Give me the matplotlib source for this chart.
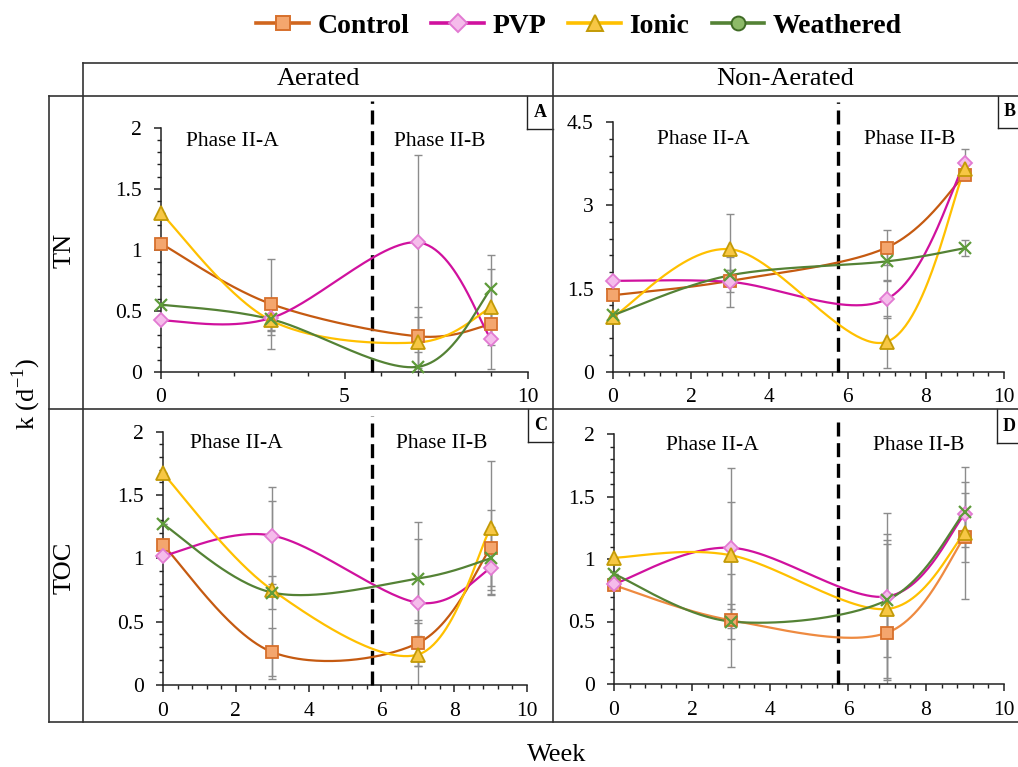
import numpy as np
import matplotlib
matplotlib.use("Agg")
import matplotlib.pyplot as plt
from matplotlib.lines import Line2D
from matplotlib.ticker import MultipleLocator
from matplotlib.font_manager import FontProperties

plt.rcParams['font.family'] = ['Liberation Serif', 'DejaVu Serif']
plt.rcParams['mathtext.fontset'] = 'custom'
plt.rcParams['mathtext.rm'] = 'Liberation Serif'

# ---------------- data ----------------
weeks = [0, 3, 7, 9]
series_names = ["Control", "PVP", "Ionic", "Weathered"]

# TN, aerated (panel A)
tn_aer_control = [1.05, 0.555, 0.29, 0.39]
tn_aer_pvp = [0.42, 0.44, 1.06, 0.265]
tn_aer_ionic = [1.30, 0.42, 0.24, 0.53]
tn_aer_weathered = [0.55, 0.43, 0.04, 0.68]
tn_aer_control_err = [0, 0.37, 0.24, 0.10]
tn_aer_pvp_err = [0, 0.10, 0.72, 0.245]
tn_aer_ionic_err = [0, 0.12, 0.21, 0.31]
tn_aer_weathered_err = [0, 0.10, 0.12, 0.28]

# TN, non-aerated (panel B)
tn_non_control = [1.38, 1.64, 2.24, 3.55]
tn_non_pvp = [1.64, 1.62, 1.31, 3.77]
tn_non_ionic = [0.99, 2.21, 0.54, 3.66]
tn_non_weathered = [1.02, 1.74, 1.99, 2.23]
tn_non_control_err = [0, 0.20, 0.31, 0.10]
tn_non_pvp_err = [0, 0.45, 0.35, 0.25]
tn_non_ionic_err = [0, 0.63, 0.47, 0.10]
tn_non_weathered_err = [0, 0.10, 0.35, 0.15]

# TOC, aerated (panel C)
toc_aer_control = [1.105, 0.26, 0.33, 1.08]
toc_aer_pvp = [1.02, 1.18, 0.65, 0.92]
toc_aer_ionic = [1.67, 0.75, 0.24, 1.24]
toc_aer_weathered = [1.27, 0.73, 0.84, 1.00]
toc_aer_control_err = [0, 0.19, 0.18, 0.30]
toc_aer_pvp_err = [0, 0.38, 0.50, 0.20]
toc_aer_ionic_err = [0, 0.70, 0.25, 0.53]
toc_aer_weathered_err = [0, 0.13, 0.45, 0.25]

# TOC, non-aerated (panel D)
toc_non_control = [0.79, 0.51, 0.41, 1.18]
toc_non_pvp = [0.80, 1.09, 0.70, 1.36]
toc_non_ionic = [1.01, 1.03, 0.60, 1.21]
toc_non_weathered = [0.88, 0.50, 0.67, 1.38]
toc_non_control_err = [0, 0.37, 0.79, 0.20]
toc_non_pvp_err = [0, 0.64, 0.67, 0.26]
toc_non_ionic_err = [0, 0.43, 0.55, 0.53]
toc_non_weathered_err = [0, 0.14, 0.45, 0.15]

phase_boundary = 5.75

# ---------------- styles ----------------
W, H = 1018, 767
styles = {
    "Control":   dict(line='#C55A11', marker='s', mfc='#F4A66E', mec='#D7702C', ms=9),
    "PVP":       dict(line='#D0119E', marker='D', mfc='#F5BCEB', mec='#E27AD2', ms=7.5),
    "Ionic":     dict(line='#FFC000', marker='^', mfc='#F7C744', mec='#C39A06', ms=9.5),
    "Weathered": dict(line='#548235', marker='x', mfc='#5E9B3A', mec='#5E9B3A', ms=8),
}


def fx(x):
    return x / W


def fy(y):
    return 1 - y / H


def excel_smooth(x, y, n=60):
    pts = np.column_stack([x, y]).astype(float)
    P = np.vstack([pts[0], pts, pts[-1]])
    out = []
    t = np.linspace(0, 1, n)[:, None]
    for i in range(len(pts) - 1):
        p0, p1, p2, p3 = P[i], P[i + 1], P[i + 2], P[i + 3]
        c1 = p1 + (p2 - p0) / 6
        c2 = p2 - (p3 - p1) / 6
        seg = (1 - t) ** 3 * p1 + 3 * (1 - t) ** 2 * t * c1 + 3 * (1 - t) * t ** 2 * c2 + t ** 3 * p2
        out.append(seg if i == 0 else seg[1:])
    return np.vstack(out)


fig = plt.figure(figsize=(W / 100, H / 100), dpi=100)

panels = [
    dict(rect=(161, 528, 127.7, 371.7), ylim=2, ymaj=0.5, ymin=0.1, xmaj=5, xmin=1,
         data=[tn_aer_control, tn_aer_pvp, tn_aer_ionic, tn_aer_weathered],
         err=[tn_aer_control_err, tn_aer_pvp_err, tn_aer_ionic_err, tn_aer_weathered_err],
         dash_top=101, ctrl='#C55A11',
         phaseA=(232, 142), phaseB=(440, 142), letter='A', box=(527, 96, 129, 553)),
    dict(rect=(613, 1004, 122.3, 371.7), ylim=4.5, ymaj=1.5, ymin=0.3, xmaj=2, xmin=0.4,
         data=[tn_non_control, tn_non_pvp, tn_non_ionic, tn_non_weathered],
         err=[tn_non_control_err, tn_non_pvp_err, tn_non_ionic_err, tn_non_weathered_err],
         dash_top=102, ctrl='#C55A11',
         phaseA=(703, 139), phaseB=(910, 139), letter='B', box=(998, 96, 128, 1018)),
    dict(rect=(163, 527, 431.7, 685), ylim=2, ymaj=0.5, ymin=0.1, xmaj=2, xmin=0.4,
         data=[toc_aer_control, toc_aer_pvp, toc_aer_ionic, toc_aer_weathered],
         err=[toc_aer_control_err, toc_aer_pvp_err, toc_aer_ionic_err, toc_aer_weathered_err],
         dash_top=416, ctrl='#C55A11',
         phaseA=(236, 444), phaseB=(442, 444), letter='C', box=(528, 409, 442, 553)),
    dict(rect=(614, 1004, 434, 684), ylim=2, ymaj=0.5, ymin=0.1, xmaj=2, xmin=0.4,
         data=[toc_non_control, toc_non_pvp, toc_non_ionic, toc_non_weathered],
         err=[toc_non_control_err, toc_non_pvp_err, toc_non_ionic_err, toc_non_weathered_err],
         dash_top=416, ctrl='#EE8A40',
         phaseA=(712, 446), phaseB=(919, 446), letter='D', box=(997, 409, 443, 1018)),
]

for p in panels:
    l, r, t, b = p['rect']
    ax = fig.add_axes([fx(l), fy(b), (r - l) / W, (b - t) / H])
    ax.set_xlim(0, 10)
    ax.set_ylim(0, p['ylim'])
    ax.patch.set_alpha(0)
    for s in ('top', 'right'):
        ax.spines[s].set_visible(False)
    for s in ('left', 'bottom'):
        ax.spines[s].set_color('#222222')
        ax.spines[s].set_linewidth(1.1)
    ax.xaxis.set_major_locator(MultipleLocator(p['xmaj']))
    ax.xaxis.set_minor_locator(MultipleLocator(p['xmin']))
    ax.yaxis.set_major_locator(MultipleLocator(p['ymaj']))
    ax.yaxis.set_minor_locator(MultipleLocator(p['ymin']))
    ax.tick_params(which='major', direction='out', length=5, width=1.1, labelsize=15.5,
                   color='#222222', pad=9)
    ax.tick_params(which='minor', direction='out', length=3, width=1.0, color='#222222')
    ax.tick_params(axis='x', which='major', pad=7)
    ax.yaxis.set_major_formatter(matplotlib.ticker.FuncFormatter(lambda v, _: f"{v:g}"))

    # error bars
    for name, vals, errs in zip(series_names, p['data'], p['err']):
        ax.errorbar(weeks, vals, yerr=errs, fmt='none', ecolor='#8C8C8C', elinewidth=1.0,
                    capsize=3, capthick=1.0, zorder=2)
    # dashed phase line
    frac = (b - p['dash_top']) / (b - t)
    ax.axvline(phase_boundary, ymin=0, ymax=frac, color='black', lw=2.4,
               ls=(0, (4.2, 2.0)), clip_on=False, zorder=3)
    # curves
    for name, vals in zip(series_names, p['data']):
        st = styles[name]
        col = p['ctrl'] if name == 'Control' else st['line']
        curve = excel_smooth(weeks, vals)
        ax.plot(curve[:, 0], curve[:, 1], color=col, lw=1.6, zorder=4, clip_on=False)
    for name, vals in zip(series_names, p['data']):
        st = styles[name]
        ax.plot(weeks, vals, ls='none', marker=st['marker'], ms=st['ms'], mfc=st['mfc'],
                mec=st['mec'], mew=1.3 if name != 'Weathered' else 1.6, zorder=5, clip_on=False)

    fig.text(fx(p['phaseA'][0]), fy(p['phaseA'][1]), 'Phase II-A', ha='center', va='center', fontsize=15.5)
    fig.text(fx(p['phaseB'][0]), fy(p['phaseB'][1]), 'Phase II-B', ha='center', va='center', fontsize=15.5)
    bx, by0, by1, bx_end = p['box']
    fig.add_artist(Line2D([fx(bx), fx(bx)], [fy(by0), fy(by1)], color='#222222', lw=1.0,
                          transform=fig.transFigure))
    fig.add_artist(Line2D([fx(bx), fx(bx_end)], [fy(by1), fy(by1)], color='#222222', lw=1.0,
                          transform=fig.transFigure))
    lx = bx + 13 if bx < 600 else bx + 12
    fig.text(fx(lx), fy((by0 + by1) / 2), p['letter'], ha='center', va='center',
             fontsize=13, fontweight='bold')

# ---------------- table frame ----------------
lc = '#333333'
lw = 1.2
frame_lines = [
    ((83, 62.7), (1018, 62.7)),
    ((49, 96), (1018, 96)),
    ((49, 409), (1018, 409)),
    ((49, 722), (1018, 722)),
    ((49, 96), (49, 722)),
    ((83, 62.7), (83, 722)),
    ((553, 62.7), (553, 722)),
]
for (x0, y0), (x1, y1) in frame_lines:
    fig.add_artist(Line2D([fx(x0), fx(x1)], [fy(y0), fy(y1)], color=lc, lw=lw,
                          transform=fig.transFigure))

fig.text(fx(318), fy(79), 'Aerated', ha='center', va='center', fontsize=19)
fig.text(fx(785), fy(79), 'Non-Aerated', ha='center', va='center', fontsize=19)
fig.text(fx(65), fy(250), 'TN', ha='center', va='center', fontsize=19, rotation=90)
fig.text(fx(65), fy(568), 'TOC', ha='center', va='center', fontsize=19, rotation=90)
fig.text(fx(26), fy(394), r'k (d$^{\mathrm{-1}}$)', ha='center', va='center', fontsize=19, rotation=90)
fig.text(fx(557), fy(755), 'Week', ha='center', va='center', fontsize=19)

# ---------------- legend ----------------
handles = []
for name in series_names:
    st = styles[name]
    if name == 'Weathered':
        h = Line2D([], [], color=st['line'], lw=2.6, marker='o', ms=10, mfc='#8DBA68', mec='#3F6B25', mew=1.4)
    else:
        h = Line2D([], [], color=st['line'] if name != 'Control' else '#D0661E', lw=2.6,
                   marker=st['marker'], ms=st['ms'] + 1.5, mfc=st['mfc'], mec=st['mec'], mew=1.4)
    handles.append(h)
fig.legend(handles, series_names, loc='center', bbox_to_anchor=(fx(579), fy(26)), ncol=4,
           frameon=False, prop=FontProperties(family='Liberation Serif', weight='bold', size=20),
           handlelength=1.9, columnspacing=0.8, handletextpad=0.3)

fig.savefig('out.png', dpi=100)
